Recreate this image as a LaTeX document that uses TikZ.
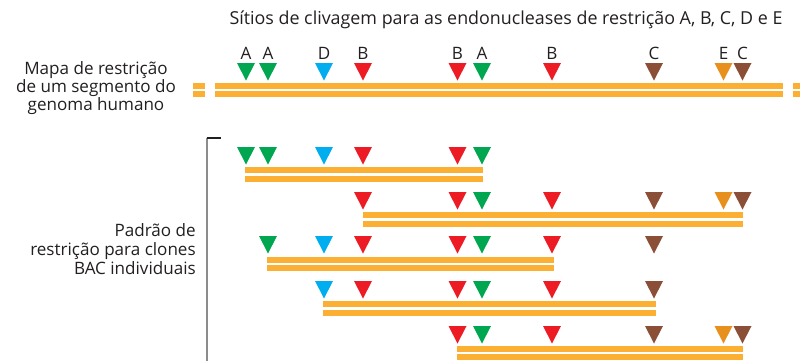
\documentclass[tikz,border=0pt]{standalone}
\usepackage{fontspec}
\setmainfont{Open Sans}
\definecolor{cA}{HTML}{00A650}
\definecolor{cB}{HTML}{ED1C24}
\definecolor{cC}{HTML}{8B4E37}
\definecolor{cD}{HTML}{00AEEF}
\definecolor{cE}{HTML}{E8901E}
\definecolor{bar}{HTML}{FBB034}
\definecolor{txt}{HTML}{231F20}
\tikzset{
  lbl/.style={font=\fontsize{12.8}{13.5}\selectfont, text=txt, inner sep=0pt},
  letter/.style={lbl, anchor=base},
}
\newcommand\mktri[3]{\fill[#1] (#2-9,#3) -- (#2+9,#3) -- (#2,#3+17.5) -- cycle;}
\newcommand\mkbar[4]{\fill[bar] (#1,#3-3) rectangle (#2,#3+3); \fill[bar] (#1,#4-3) rectangle (#2,#4+3);}
\begin{document}
\begin{tikzpicture}[x=0.75pt,y=-0.75pt]
\useasboundingbox (0,0) rectangle (800,361);
% title
\node[lbl, anchor=base, font=\fontsize{13.4}{14}\selectfont] (title) at (506,24) {Sítios de clivagem para as endonucleases de restrição A, B, C, D e E};
% left labels
\node[lbl, align=center] (map) at (96,88) {Mapa de restrição\\de um segmento do\\genoma humano};
\node[lbl, align=right, anchor=east, font=\fontsize{12.8}{14.5}\selectfont] (bac) at (196,249) {Padrão de\\restrição para clones\\BAC individuais};
% bracket
\draw[gray!90, line width=1.1pt] (207,138) -- (207,361);
\draw[txt, line width=0.9pt] (206.5,138) -- (221,138);
% letters on the map
\foreach \x/\l in {246/A,268/A,324/D,363/B,457.5/B,482/A,552/B,654/C,723.5/E,742.5/C}
  \node[letter] (L\l\x) at (\x,59) {\l};
% top map
\fill[bar] (193,82.5) rectangle (205,88.5); \fill[bar] (193,91) rectangle (205,97);
\mkbar{215}{783}{85.5}{94}
\fill[bar] (793,82.5) rectangle (800,88.5); \fill[bar] (793,91) rectangle (800,97);
\foreach \x/\c in {246/cA,268/cA,324/cD,363/cB,457.5/cB,482/cA,552/cB,654/cC,723.5/cE,742.5/cC}
  {\mktri{\c}{\x}{63}}
% row 1
\mkbar{245}{483}{170}{179}
\foreach \x/\c in {246/cA,268/cA,324/cD,363/cB,457.5/cB,482/cA}
  {\mktri{\c}{\x}{147}}
% row 2
\mkbar{363}{743}{215}{223.5}
\foreach \x/\c in {363/cB,457.5/cB,482/cA,552/cB,654/cC,723.5/cE,742.5/cC}
  {\mktri{\c}{\x}{192}}
% row 3
\mkbar{267}{554}{259.5}{267.5}
\foreach \x/\c in {268/cA,324/cD,363/cB,457.5/cB,482/cA,552/cB,654/cC}
  {\mktri{\c}{\x}{236}}
% row 4
\mkbar{323}{656}{304}{312.5}
\foreach \x/\c in {324/cD,363/cB,457.5/cB,482/cA,552/cB,654/cC}
  {\mktri{\c}{\x}{281}}
% row 5
\mkbar{457}{743}{349}{356.5}
\foreach \x/\c in {457.5/cB,482/cA,552/cB,654/cC,723.5/cE,742.5/cC}
  {\mktri{\c}{\x}{326}}
\end{tikzpicture}
\end{document}
